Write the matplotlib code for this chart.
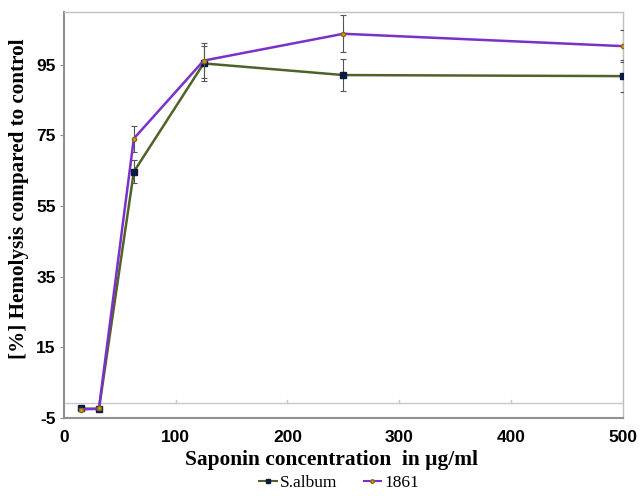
import matplotlib
matplotlib.use("Agg")
import matplotlib.pyplot as plt
from matplotlib.lines import Line2D

conc = [15.625, 31.25, 62.5, 125, 250, 500]
salbum = [-2.4, -2.6, 64.7, 95.4, 92.1, 91.8]
salbum_err = [0.3, 0.3, 3.2, 5.0, 4.5, 4.6]
s1861 = [-2.7, -2.4, 74.1, 96.2, 103.8, 100.3]
s1861_err = [0.3, 0.3, 3.7, 5.0, 5.2, 4.6]
yticks = [-5, 15, 35, 55, 75, 95]
xticks = [0, 100, 200, 300, 400, 500]
cross_y = -0.8

fig = plt.figure(figsize=(6.4, 4.96), dpi=100)
ax = fig.add_axes([0.1, 0.158, 0.873, 0.818])

green = "#4f6228"
purple = "#7b30c8"
ax.errorbar(conc, salbum, yerr=salbum_err, color=green, lw=1.8, marker="s", ms=4,
            mfc="#0a1a40", mec="#0a1a40", ecolor="#555555", elinewidth=0.8,
            capsize=2, capthick=0.8, zorder=3)
ax.errorbar(conc, s1861, yerr=s1861_err, color=purple, lw=1.8, marker="o", ms=3,
            mfc="#d4a017", mec="#8a6a10", ecolor="#555555", elinewidth=0.8,
            capsize=2, capthick=0.8, zorder=4)

ax.axhline(cross_y, color="#c8c8c8", lw=1.0, zorder=1)
for xv in xticks[1:]:
    ax.plot([xv, xv], [cross_y, cross_y + 0.8], color="#c8c8c8", lw=1.0, zorder=1)

ax.set_xlim(0, 500)
ax.set_ylim(-5, 110)
ax.set_yticks(yticks)
ax.set_xticks(xticks)
tick_font = dict(family=["Liberation Sans Narrow", "Liberation Sans"], weight="bold", size=12.5)
ax.set_yticklabels([str(v) for v in yticks], fontdict=tick_font)
ax.set_xticklabels([str(v) for v in xticks], fontdict=tick_font)
ax.tick_params(axis="y", length=3, width=0.8, color="#909090", direction="out", pad=3)
ax.tick_params(axis="x", length=0, pad=9)
for s in ax.spines.values():
    s.set_color("#c0c0c0")
    s.set_linewidth(1.0)
ax.spines["left"].set_color("#909090")
ax.spines["left"].set_linewidth(1.5)
ax.spines["bottom"].set_color("#909090")
ax.spines["bottom"].set_linewidth(1.5)

ax.set_xlabel("Saponin concentration  in µg/ml", family="Liberation Serif",
              weight="bold", size=15.4, labelpad=4)
ax.set_ylabel("[%] Hemolysis compared to control", family="Liberation Serif",
              weight="bold", size=15.2, labelpad=6)
ax.xaxis.set_label_coords(0.478, -0.08)
ax.yaxis.set_label_coords(-0.062, 0.539)

handles = [Line2D([], [], color=green, lw=1.5, marker="s", ms=3.5, mfc="#0a1a40", mec="#0a1a40"),
           Line2D([], [], color=purple, lw=1.5, marker="o", ms=2.5, mfc="#d4a017", mec="#8a6a10")]
fig.legend(handles, ["S.album", "1861"], loc="lower center", bbox_to_anchor=(0.53, -0.022),
           ncol=2, frameon=False, handlelength=1.0, handletextpad=0.2, columnspacing=1.5,
           prop=dict(family="Liberation Serif", size=12.5))

fig.savefig("out.png", dpi=100)
